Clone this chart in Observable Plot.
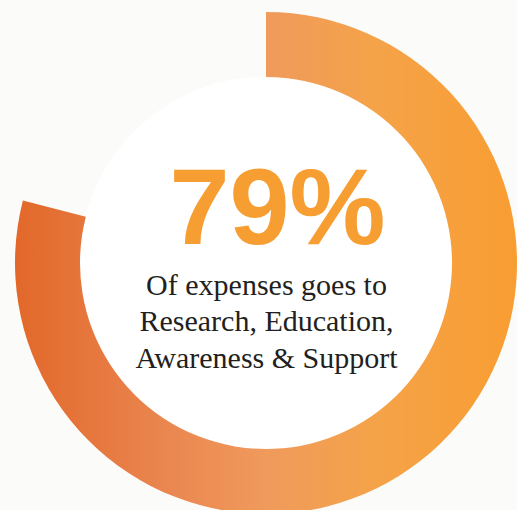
<!DOCTYPE html>
<html>
<head>
<meta charset="utf-8">
<script src="https://cdn.jsdelivr.net/npm/d3@7"></script>
<script src="https://cdn.jsdelivr.net/npm/@observablehq/plot@0.6"></script>
<style>
  html, body { margin: 0; padding: 0; background: #fbfbfa; }
  #chart { width: 517px; height: 510px; overflow: hidden; }
</style>
</head>
<body>
<div id="chart"></div>
<script>
// Data
const categories = ["Research, Education, Awareness & Support"];
const values = [79];
const headline = "79%";
const captionLines = ["Of expenses goes to", "Research, Education,", "Awareness & Support"];

const gradientStops = [
  {offset: "0%", color: "#e2682a"},
  {offset: "30%", color: "#ea8650"},
  {offset: "50%", color: "#f09a5c"},
  {offset: "72%", color: "#f5a349"},
  {offset: "100%", color: "#f89d31"}
];

const W = 517, H = 510;
const cx = 266, cy = 263;      // ring centre (pixels)
const rOuter = 251, rInner = 186;

const table = categories.map((c, i) => ({category: c, value: values[i]}));

function ringRender(index, scales, vals, dimensions, context) {
  const g = d3.create("svg:g");
  const defs = g.append("defs");
  const grad = defs.append("linearGradient").attr("id", "ringGrad")
    .attr("x1", 0).attr("x2", 1).attr("y1", 0).attr("y2", 0);
  for (const s of gradientStops) grad.append("stop").attr("offset", s.offset).attr("stop-color", s.color);
  const arc = d3.arc().innerRadius(rInner).outerRadius(rOuter);
  for (const i of index) {
    g.append("path")
      .attr("transform", `translate(${cx},${cy})`)
      .attr("d", arc({startAngle: vals.x1[i], endAngle: vals.x2[i]}))
      .attr("fill", "url(#ringGrad)");
  }
  return g.node();
}

const plot = Plot.plot({
  width: W,
  height: H,
  margin: 0,
  style: {background: "transparent", overflow: "visible"},
  x: {domain: [0, 100], range: [0, 2 * Math.PI], axis: null},
  y: {axis: null},
  marks: [
    // white inner disc
    Plot.dot([0], {frameAnchor: "middle", dx: cx - W / 2, dy: cy - H / 2, r: rInner + 1, fill: "#ffffff", stroke: "none"}),
    // ring segment
    Plot.barX(table, {x: "value", render: ringRender}),
    // headline
    Plot.text([headline], {
      text: d => d, frameAnchor: "middle", dx: 277 - W / 2, dy: 243 - H / 2,
      lineAnchor: "bottom", textAnchor: "middle",
      fontSize: 108, fontWeight: "bold", fill: "#f79e33",
      fontFamily: "'Liberation Sans', Arial, sans-serif"
    }),
    // caption
    Plot.text([captionLines.join("\n")], {
      text: d => d, frameAnchor: "middle", dx: cx - W / 2, dy: 367 - H / 2,
      lineAnchor: "bottom", textAnchor: "middle", lineHeight: 1.21,
      fontSize: 30, fill: "#231f20",
      fontFamily: "'Liberation Serif', 'Times New Roman', serif"
    })
  ]
});

document.getElementById("chart").appendChild(plot);
</script>
</body>
</html>
